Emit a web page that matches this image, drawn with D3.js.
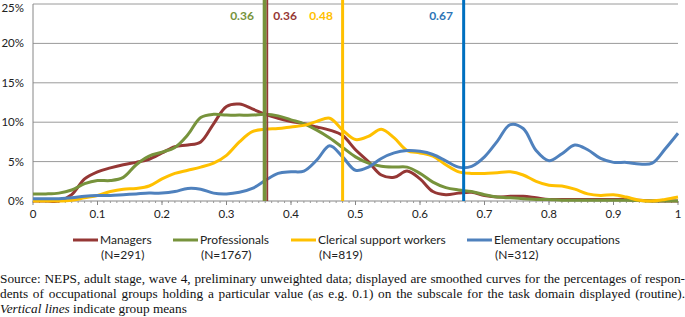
<!DOCTYPE html>
<html>
<head>
<meta charset="utf-8">
<script src="https://cdn.jsdelivr.net/npm/d3@7"></script>
<style>
  body { margin: 0; background: #fff; }
  #wrap { position: relative; width: 685px; height: 317px; overflow: hidden; }
  .note { position: absolute; left: 0; width: 685px; font-family: "Liberation Serif", serif;
          font-size: 13.3px; line-height: 15px; color: #111; white-space: nowrap; }
  .just { text-align: justify; text-align-last: justify; white-space: normal; }
</style>
</head>
<body>
<div id="wrap"></div>
<script>
// Chart data
const xs = d3.range(0, 51).map(i => +(i * 0.02).toFixed(2));
const managers = [0, 0, 0, 0.8, 2.8, 3.7, 4.2, 4.6, 4.9, 5.3, 6.1, 6.9, 7.1, 7.5, 9.8, 12.0, 12.3, 11.7, 11.0, 10.5,
  10.1, 9.8, 9.4, 9.0, 8.3, 6.5, 5.0, 3.3, 3.0, 3.8, 2.8, 1.2, 0.8, 1.0, 1.1, 0.7, 0.5, 0.6, 0.6, 0.4,
  0.2, 0.2, 0.2, 0.2, 0.2, 0.2, 0.2, 0.1, 0, 0, 0];
const professionals = [0.9, 0.9, 1.0, 1.4, 2.2, 2.6, 2.6, 3.0, 4.6, 5.7, 6.2, 6.8, 8.4, 10.6, 11.0, 10.9, 10.9, 10.9, 11.0, 10.8,
  10.3, 9.8, 9.0, 8.0, 6.8, 5.6, 4.8, 4.4, 4.3, 4.3, 3.5, 2.4, 1.7, 1.4, 1.2, 0.8, 0.5, 0.4, 0.3, 0.2,
  0.2, 0.1, 0.1, 0.1, 0.1, 0.1, 0.1, 0.05, 0, 0, 0];
const clerical = [0, 0, 0, 0.1, 0.4, 0.7, 1.2, 1.5, 1.6, 1.9, 2.8, 3.5, 3.9, 4.3, 4.8, 5.8, 7.5, 8.8, 9.1, 9.2,
  9.4, 9.6, 10.1, 10.5, 9.0, 7.8, 8.2, 9.1, 8.0, 6.4, 6.1, 5.7, 4.6, 3.7, 3.5, 3.5, 3.6, 3.7, 3.3, 2.5,
  2.0, 1.9, 1.5, 0.9, 0.7, 0.8, 0.5, 0.1, 0, 0.2, 0.5];
const elementary = [0.3, 0.3, 0.3, 0.4, 0.6, 0.7, 0.7, 0.8, 0.9, 1.0, 1.0, 1.2, 1.6, 1.5, 1.0, 0.9, 1.1, 1.6, 2.6, 3.5,
  3.7, 3.8, 5.2, 7.0, 5.6, 3.9, 4.3, 5.4, 6.1, 6.4, 6.3, 5.9, 5.1, 4.3, 4.4, 5.6, 7.6, 9.7, 9.2, 6.4,
  5.1, 6.0, 7.1, 6.5, 5.4, 4.9, 4.9, 4.7, 4.8, 6.6, 8.6];

const groups = ["Managers", "Professionals", "Clerical support workers", "Elementary occupations"];
const counts = ["(N=291)", "(N=1767)", "(N=819)", "(N=312)"];
const means = [0.36, 0.36, 0.48, 0.67];
const seriesValues = [managers, professionals, clerical, elementary];
const yTicks = [0, 5, 10, 15, 20, 25];
const xTicks = [0, 0.1, 0.2, 0.3, 0.4, 0.5, 0.6, 0.7, 0.8, 0.9, 1];

const curveColors = ["#953735", "#77933c", "#ffc000", "#4f81bd"];
const meanColors = ["#953735", "#77933c", "#ffc000", "#0070c0"];
const labelColors = ["#953735", "#77933c", "#ffc000", "#2e75b6"];

const width = 685, height = 317;
const plotLeft = 33, plotRight = 678, plotTop = 4, plotBottom = 201;

const x = d3.scaleLinear().domain([0, 1]).range([plotLeft, plotRight]);
const y = d3.scaleLinear().domain([0, 25]).range([plotBottom, plotTop]);

const svg = d3.select("#wrap").append("svg")
  .attr("width", width)
  .attr("height", height)
  .style("position", "absolute")
  .style("left", 0).style("top", 0);

const sans = "Lato, 'Open Sans', sans-serif";

// Horizontal gridlines
svg.append("g")
  .selectAll("line")
  .data(yTicks.filter(d => d > 0))
  .enter().append("line")
  .attr("x1", plotLeft).attr("x2", plotRight)
  .attr("y1", d => y(d)).attr("y2", d => y(d))
  .attr("stroke", "#9a9a9a")
  .attr("stroke-width", 1);

// Y axis: line and percent labels (top label nudged down so it stays inside)
svg.append("line")
  .attr("x1", plotLeft).attr("x2", plotLeft)
  .attr("y1", y(25)).attr("y2", y(0))
  .attr("stroke", "#868686");
svg.append("g")
  .selectAll("text")
  .data(yTicks)
  .enter().append("text")
  .attr("x", plotLeft - 9)
  .attr("y", d => y(d) + 4)
  .attr("dy", d => d === 25 ? 4 : 0)
  .attr("text-anchor", "end")
  .attr("font-family", sans)
  .attr("font-size", "11.5px")
  .attr("fill", "#222")
  .text(d => d + "%");

// X axis with major and minor ticks
const xAxisG = svg.append("g").attr("transform", `translate(0,${y(0)})`);
xAxisG.append("line")
  .attr("x1", plotLeft).attr("x2", plotRight)
  .attr("stroke", "#868686");
xAxisG.selectAll(".minor")
  .data(d3.range(0, 101).map(i => i / 100))
  .enter().append("line")
  .attr("class", "minor")
  .attr("x1", d => x(d)).attr("x2", d => x(d))
  .attr("y1", 0).attr("y2", 2)
  .attr("stroke", "#9a9a9a");
xAxisG.selectAll(".major")
  .data(xTicks)
  .enter().append("line")
  .attr("class", "major")
  .attr("x1", d => x(d)).attr("x2", d => x(d))
  .attr("y1", 0).attr("y2", 4)
  .attr("stroke", "#868686");
xAxisG.selectAll("text")
  .data(xTicks)
  .enter().append("text")
  .attr("x", d => x(d))
  .attr("y", 17)
  .attr("text-anchor", "middle")
  .attr("font-family", sans)
  .attr("font-size", "11.5px")
  .attr("fill", "#222")
  .text(d => d);

// Smoothed curves, drawn in series order
const line = d3.line()
  .x((d, i) => x(xs[i]))
  .y(d => y(d))
  .curve(d3.curveCatmullRom.alpha(0.5));
svg.append("g")
  .selectAll("path")
  .data(seriesValues)
  .enter().append("path")
  .attr("d", d => line(d))
  .attr("fill", "none")
  .attr("stroke", (d, i) => curveColors[i])
  .attr("stroke-width", 3)
  .attr("stroke-linejoin", "round");

// Vertical mean lines (professionals first, managers drawn thin beside it)
const meanWidths = [1.6, 4, 3, 3];
const meanOffsets = [2.2, -0.5, 0, -1.5];
const meanOrder = [1, 0, 2, 3];
svg.append("g")
  .selectAll("line")
  .data(meanOrder)
  .enter().append("line")
  .attr("x1", i => x(means[i]) + meanOffsets[i])
  .attr("x2", i => x(means[i]) + meanOffsets[i])
  .attr("y1", 0).attr("y2", y(0))
  .attr("stroke", i => meanColors[i])
  .attr("stroke-width", i => meanWidths[i]);

// Mean labels
const labelX = [285, 242, 321, 441];
svg.append("g")
  .selectAll("text")
  .data(means)
  .enter().append("text")
  .attr("x", (d, i) => labelX[i])
  .attr("y", 20)
  .attr("text-anchor", "middle")
  .attr("font-family", sans)
  .attr("font-size", "12px")
  .attr("font-weight", "bold")
  .attr("fill", (d, i) => labelColors[i])
  .text(d => d.toFixed(2));

// Legend
const legendX = [73, 173, 291, 467];
const legend = svg.append("g")
  .selectAll("g")
  .data(groups)
  .enter().append("g")
  .attr("transform", (d, i) => `translate(${legendX[i]},240)`);
legend.append("line")
  .attr("x1", 0).attr("x2", 25)
  .attr("stroke", (d, i) => curveColors[i])
  .attr("stroke-width", 3);
legend.append("text")
  .attr("x", 27).attr("y", 4)
  .attr("font-family", sans)
  .attr("font-size", "12px")
  .attr("fill", "#222")
  .text(d => d);
legend.append("text")
  .attr("x", 28).attr("y", 19)
  .attr("font-family", sans)
  .attr("font-size", "12px")
  .attr("fill", "#222")
  .text((d, i) => counts[i]);

// Footnote below the chart
const wrap = d3.select("#wrap");
wrap.append("div").attr("class", "note just").style("top", "271px")
  .text("Source: NEPS, adult stage, wave 4, preliminary unweighted data; displayed are smoothed curves for the percentages of respon-");
wrap.append("div").attr("class", "note just").style("top", "286px")
  .text("dents of occupational groups holding a particular value (as e.g. 0.1) on the subscale for the task domain displayed (routine).");
const last = wrap.append("div").attr("class", "note").style("top", "301px");
last.append("i").text("Vertical lines");
last.append("span").text(" indicate group means");
</script>
</body>
</html>
